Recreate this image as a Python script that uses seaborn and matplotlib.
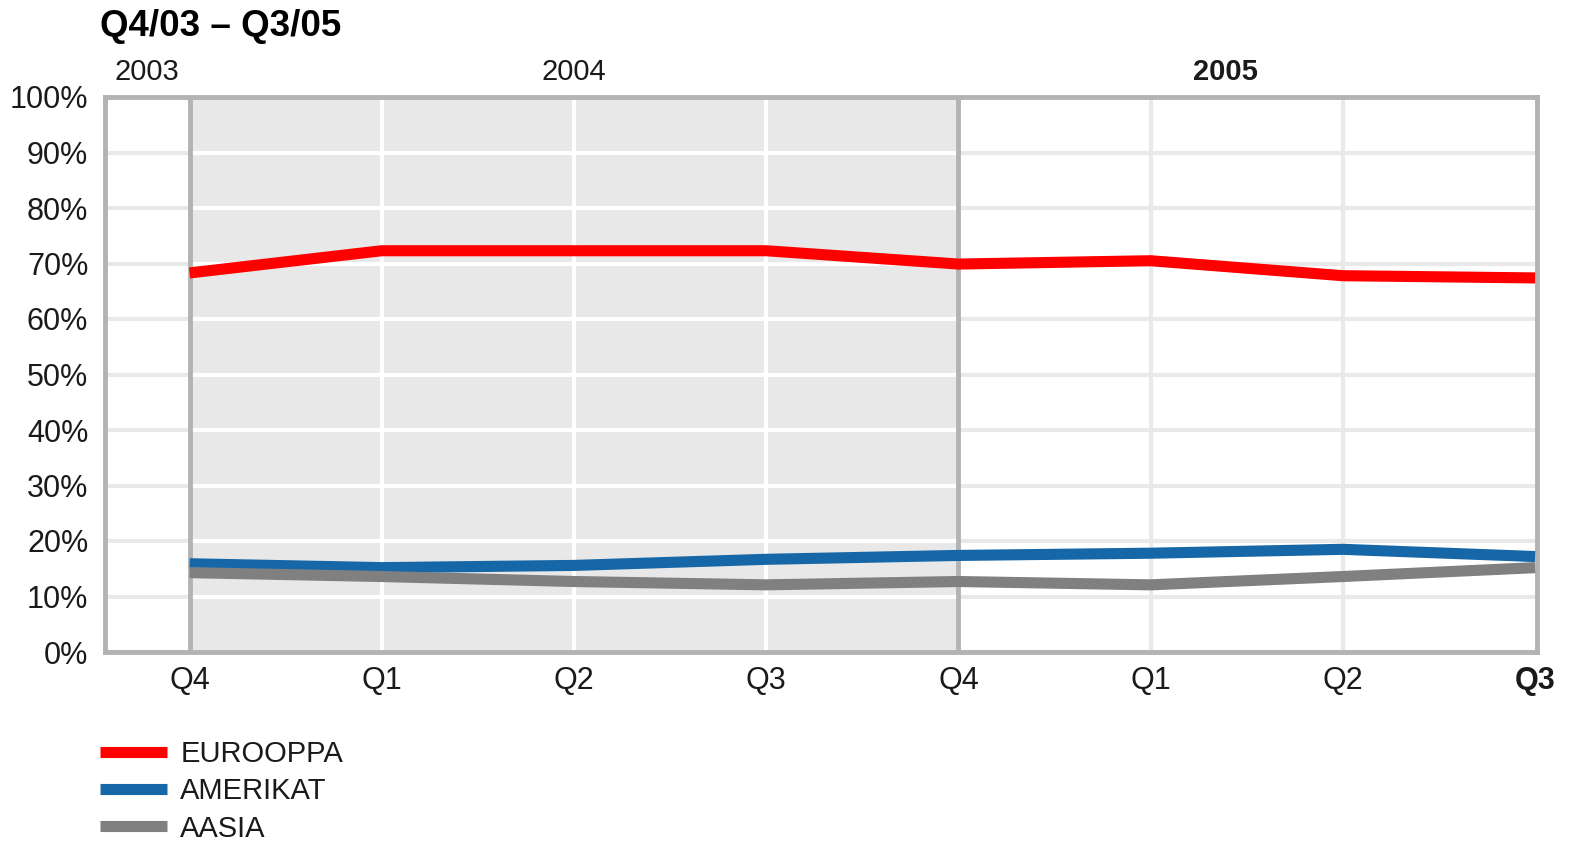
import pandas as pd
import seaborn as sns
import matplotlib.pyplot as plt
import matplotlib.transforms as mtransforms

# data
quarters = ['Q4', 'Q1', 'Q2', 'Q3', 'Q4', 'Q1', 'Q2', 'Q3']
eurooppa = [68.3, 72.3, 72.3, 72.3, 69.9, 70.5, 67.8, 67.4]
amerikat = [15.9, 15.2, 15.6, 16.7, 17.4, 17.8, 18.5, 17.2]
aasia = [14.3, 13.6, 12.7, 12.1, 12.7, 12.1, 13.6, 15.2]
series_names = ['EUROOPPA', 'AMERIKAT', 'AASIA']
colors = ['#ff0000', '#1567a8', '#808080']
years = ['2003', '2004', '2005']
year_pos = [-0.22, 2.0, 5.39]

sns.set_theme(style="white")
plt.rcParams['font.family'] = ['Liberation Sans', 'DejaVu Sans']

rows = []
for name, vals in zip(series_names, [eurooppa, amerikat, aasia]):
    for i, v in enumerate(vals):
        rows.append({'x': i, 'share': v, 'region': name})
df = pd.DataFrame(rows)

fig = plt.figure(figsize=(15.94, 8.58), dpi=100)
ax = fig.add_axes([105 / 1594, 1 - 652 / 858, (1537 - 105) / 1594, (652 - 97) / 858])

g = sns.lineplot(data=df, x='x', y='share', hue='region', palette=colors,
                 hue_order=series_names, linewidth=8, ax=ax, legend=True, zorder=5,
                 solid_capstyle='butt')

ax.set_xlim(-0.44, 7.01)
ax.set_ylim(0, 100)

# grid and shaded 2004 block
grid_c = '#e9e9e9'
ax.set_axisbelow(True)
ax.set_yticks(range(0, 101, 10))
ax.grid(axis='y', color=grid_c, lw=3)
ax.grid(axis='x', visible=False)
ax.axvspan(0, 4, facecolor='#e8e8e8', zorder=0.6)
ax.hlines(range(10, 100, 10), 0, 4, color='white', lw=3, zorder=0.7)
ax.vlines([1, 2, 3], 0, 100, color='white', lw=3, zorder=0.7)
ax.vlines([5, 6], 0, 100, color=grid_c, lw=3, zorder=0.7)
ax.vlines([0, 4], 0, 100, color='#b3b3b3', lw=3.5, zorder=0.8)

for s in ax.spines.values():
    s.set_color('#b3b3b3')
    s.set_linewidth(3.5)

ax.set_yticklabels([f'{v}%' for v in range(0, 101, 10)], fontsize=22)
ax.set_xticks(range(len(quarters)))
ax.set_xticklabels(quarters, fontsize=22)
ax.get_xticklabels()[-1].set_fontweight('bold')
ax.tick_params(axis='both', length=0, colors='#1a1a1a')
ax.tick_params(axis='x', pad=10)
ax.tick_params(axis='y', pad=12)
ax.set_xlabel('')
ax.set_ylabel('')

trans = mtransforms.blended_transform_factory(ax.transData, ax.transAxes)
for yr, xp in zip(years, year_pos):
    ax.text(xp, 1.045, yr, transform=trans, ha='center', va='center', fontsize=21,
            color='#1a1a1a', fontweight='bold' if yr == '2005' else 'normal')

fig.text(100 / 1594, 1 - 27 / 858, 'Q4/03 \u2013 Q3/05', fontsize=26.5, fontweight='bold',
         ha='left', va='center', color='black')

handles, labels = ax.get_legend_handles_labels()
ax.legend_.remove()
for h in handles:
    h.set_solid_capstyle('butt')
    h.set_linewidth(8)
leg = fig.legend(handles, labels, loc='upper left', bbox_to_anchor=(100 / 1594, 1 - 740 / 858),
                 frameon=False, fontsize=21, handlelength=2.3, handletextpad=0.45,
                 labelspacing=0.32, borderaxespad=0, borderpad=0)
for t in leg.get_texts():
    t.set_color('#1a1a1a')

fig.savefig('out.png', dpi=100)
